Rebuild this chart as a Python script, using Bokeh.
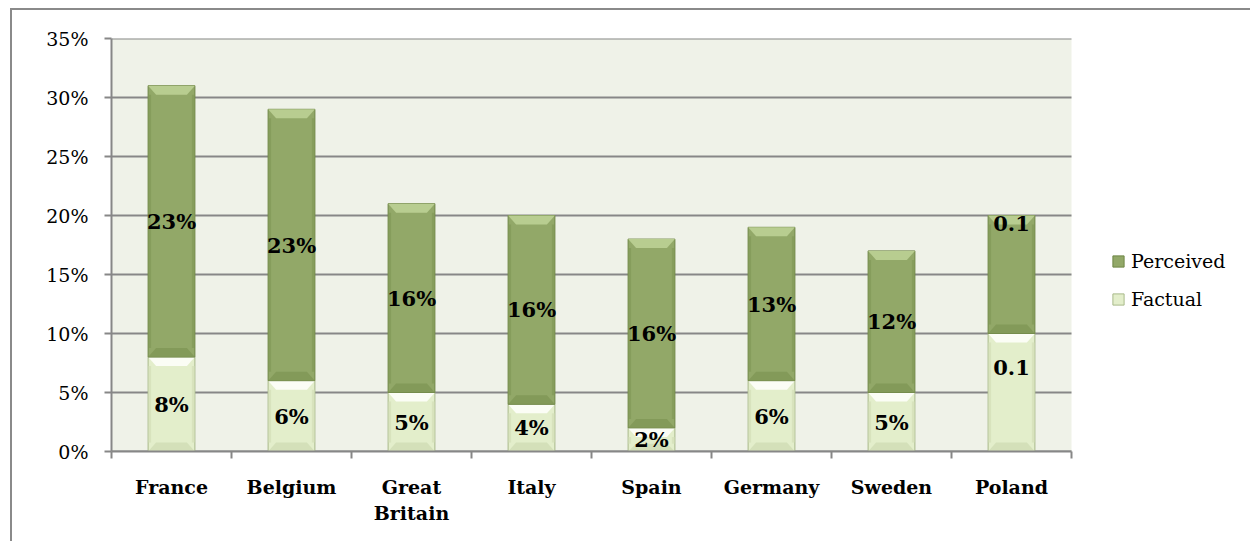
from bokeh.plotting import figure
from bokeh.models import (Range1d, FixedTicker, NumeralTickFormatter, Legend, LegendItem,
                          ColumnDataSource)
from bokeh.core.properties import value
from bokeh.embed import file_html
from bokeh.resources import INLINE

# ---- data ----
countries = ["France", "Belgium", "Great Britain", "Italy", "Spain", "Germany", "Sweden", "Poland"]
tick_labels = ["France", "Belgium", "Great\nBritain", "Italy", "Spain", "Germany", "Sweden", "Poland"]
factual = [0.08, 0.06, 0.05, 0.04, 0.02, 0.06, 0.05, 0.10]
perceived = [0.23, 0.23, 0.16, 0.16, 0.16, 0.13, 0.12, 0.10]
factual_labels = ["8%", "6%", "5%", "4%", "2%", "6%", "5%", "0.1"]
perceived_labels = ["23%", "23%", "16%", "16%", "16%", "13%", "12%", "0.1"]
y_ticks = [0.0, 0.05, 0.10, 0.15, 0.20, 0.25, 0.30, 0.35]

# label nudges (Poland's labels were moved in the original)
factual_nudge = {"Poland": 0.021}
perceived_nudge = {"Poland": 0.043}

FONT = "DejaVu Serif"
GRID = "#878787"
DARK_G, MID_G, LIGHT_G, EDGE_G = "#7F9655", "#92A868", "#B8CD90", "#6F8646"
DARK_F, MID_F, LIGHT_F, EDGE_F = "#D0DCB4", "#E3EECB", "#FBFDF5", "#A9B98A"

n = len(countries)
centers = [i + 0.5 for i in range(n)]
bw = 0.39
Y_MAX = 0.35

# layout: plot area is 960 px wide for the categories, the frame continues to the right
FIG_W, FIG_H = 1240, 533
LEFT, RIGHT, TOP, BOTTOM = 99, 1, 28, 92
cat_px = 960
frame_w = FIG_W - LEFT - RIGHT
x_end = n * frame_w / cat_px

p = figure(width=FIG_W, height=FIG_H, output_backend="svg", toolbar_location=None,
           x_range=Range1d(0, x_end), y_range=Range1d(0, Y_MAX),
           min_border_left=LEFT, min_border_right=RIGHT, min_border_top=TOP, min_border_bottom=BOTTOM)
p.styles = {"border-left": "2px solid #8a8a8a", "border-top": "2px solid #8a8a8a",
            "margin-left": "10px", "margin-top": "8px"}
p.background_fill_color = "white"
p.border_fill_color = "white"
p.outline_line_color = None

# plot-area background
p.quad(left=[0], right=[n], bottom=[0], top=[Y_MAX], fill_color="#EFF2E8", line_color=None)

# y axis
p.yaxis.ticker = FixedTicker(ticks=y_ticks)
p.yaxis.formatter = NumeralTickFormatter(format="0%")
p.yaxis.major_label_text_font = FONT
p.yaxis.major_label_text_font_size = "19px"
p.yaxis.major_label_text_color = "black"
p.yaxis.axis_line_color = GRID
p.yaxis.axis_line_width = 2
p.yaxis.major_tick_line_color = GRID
p.yaxis.major_tick_line_width = 2
p.yaxis.major_tick_in = 0
p.yaxis.major_tick_out = 7
p.yaxis.minor_tick_line_color = None
p.yaxis.major_label_standoff = 16

# x axis
p.xaxis.ticker = FixedTicker(ticks=centers, minor_ticks=list(range(n + 1)))
p.xaxis.major_label_overrides = {c: t for c, t in zip(centers, tick_labels)}
p.xaxis.bounds = (0, n)
p.xaxis.major_label_text_font = FONT
p.xaxis.major_label_text_font_style = "bold"
p.xaxis.major_label_text_font_size = "19px"
p.xaxis.major_label_text_color = "black"
p.xaxis.major_tick_line_color = None
p.xaxis.major_tick_in = 0
p.xaxis.major_tick_out = 6
p.xaxis.minor_tick_line_color = GRID
p.xaxis.minor_tick_line_width = 2
p.xaxis.minor_tick_in = 0
p.xaxis.minor_tick_out = 7
p.xaxis.axis_line_color = GRID
p.xaxis.axis_line_width = 2
p.xaxis.major_label_standoff = 17

p.xgrid.grid_line_color = None
p.ygrid.grid_line_color = None
# horizontal gridlines across the plot area only
p.segment(x0=[0] * len(y_ticks), x1=[n] * len(y_ticks), y0=y_ticks, y1=y_ticks,
          line_color=GRID, line_width=2)

# bars
f_bottom = [0.0] * n
f_top = factual
p_bottom = factual
p_top = [a + b for a, b in zip(factual, perceived)]

px_x = n / cat_px                     # data units per px, x
px_y = Y_MAX / (FIG_H - TOP - BOTTOM)  # data units per px, y
inset = 8 * px_x
bev = 9 * px_y


def bevel_bar(bottoms, tops, dark, mid, light, edge):
    left = [c - bw / 2 for c in centers]
    right = [c + bw / 2 for c in centers]
    r = p.quad(left=left, right=right, bottom=bottoms, top=tops,
               fill_color=mid, line_color=edge, line_width=1)
    # top bevel
    xs_t = [[l, r_, r_ - inset, l + inset] for l, r_ in zip(left, right)]
    ys_t = [[t, t, t - bev, t - bev] for t in tops]
    p.patches(xs_t, ys_t, fill_color=light, line_color=None)
    # bottom bevel
    bh = [min(bev, (t - b) / 3) for b, t in zip(bottoms, tops)]
    xs_b = [[l, r_, r_ - inset, l + inset] for l, r_ in zip(left, right)]
    ys_b = [[b, b, b + h, b + h] for b, h in zip(bottoms, bh)]
    p.patches(xs_b, ys_b, fill_color=dark, line_color=None, fill_alpha=0.8)
    # side shading
    p.quad(left=left, right=[l + 3 * px_x for l in left], bottom=[b + h for b, h in zip(bottoms, bh)],
           top=[t - bev for t in tops], fill_color=dark, line_color=None, fill_alpha=0.6)
    p.quad(left=[r_ - 3 * px_x for r_ in right], right=right, bottom=[b + h for b, h in zip(bottoms, bh)],
           top=[t - bev for t in tops], fill_color=dark, line_color=None, fill_alpha=0.6)
    return r


rf = bevel_bar(f_bottom, f_top, DARK_F, MID_F, LIGHT_F, EDGE_F)
rp = bevel_bar(p_bottom, p_top, DARK_G, MID_G, LIGHT_G, EDGE_G)

# labels
fy = [b + (t - b) / 2 + factual_nudge.get(c, 0) for b, t, c in zip(f_bottom, f_top, countries)]
py = [b + (t - b) / 2 + perceived_nudge.get(c, 0) for b, t, c in zip(p_bottom, p_top, countries)]
for ys, labels in ((fy, factual_labels), (py, perceived_labels)):
    src = ColumnDataSource(dict(x=centers, y=ys, t=labels))
    p.text(x="x", y="y", text="t", source=src, text_align="center", text_baseline="middle",
           text_font=value(FONT), text_font_style="bold", text_font_size="21px", text_color="black")

# legend (inside the wide frame, to the right of the plot area)
legend = Legend(items=[LegendItem(label="Perceived", renderers=[rp]),
                       LegendItem(label="Factual", renderers=[rf])],
                location=(cat_px + 40, 141), orientation="vertical")
legend.background_fill_alpha = 0
legend.border_line_color = None
legend.padding = 0
legend.margin = 0
legend.glyph_width = 14
legend.glyph_height = 14
legend.label_height = 14
legend.spacing = 16
legend.label_standoff = 6
legend.label_text_font = FONT
legend.label_text_font_size = "19px"
legend.label_text_color = "black"
legend.label_text_baseline = "middle"
p.add_layout(legend)

open("out.html", "w").write(file_html(p, INLINE))
